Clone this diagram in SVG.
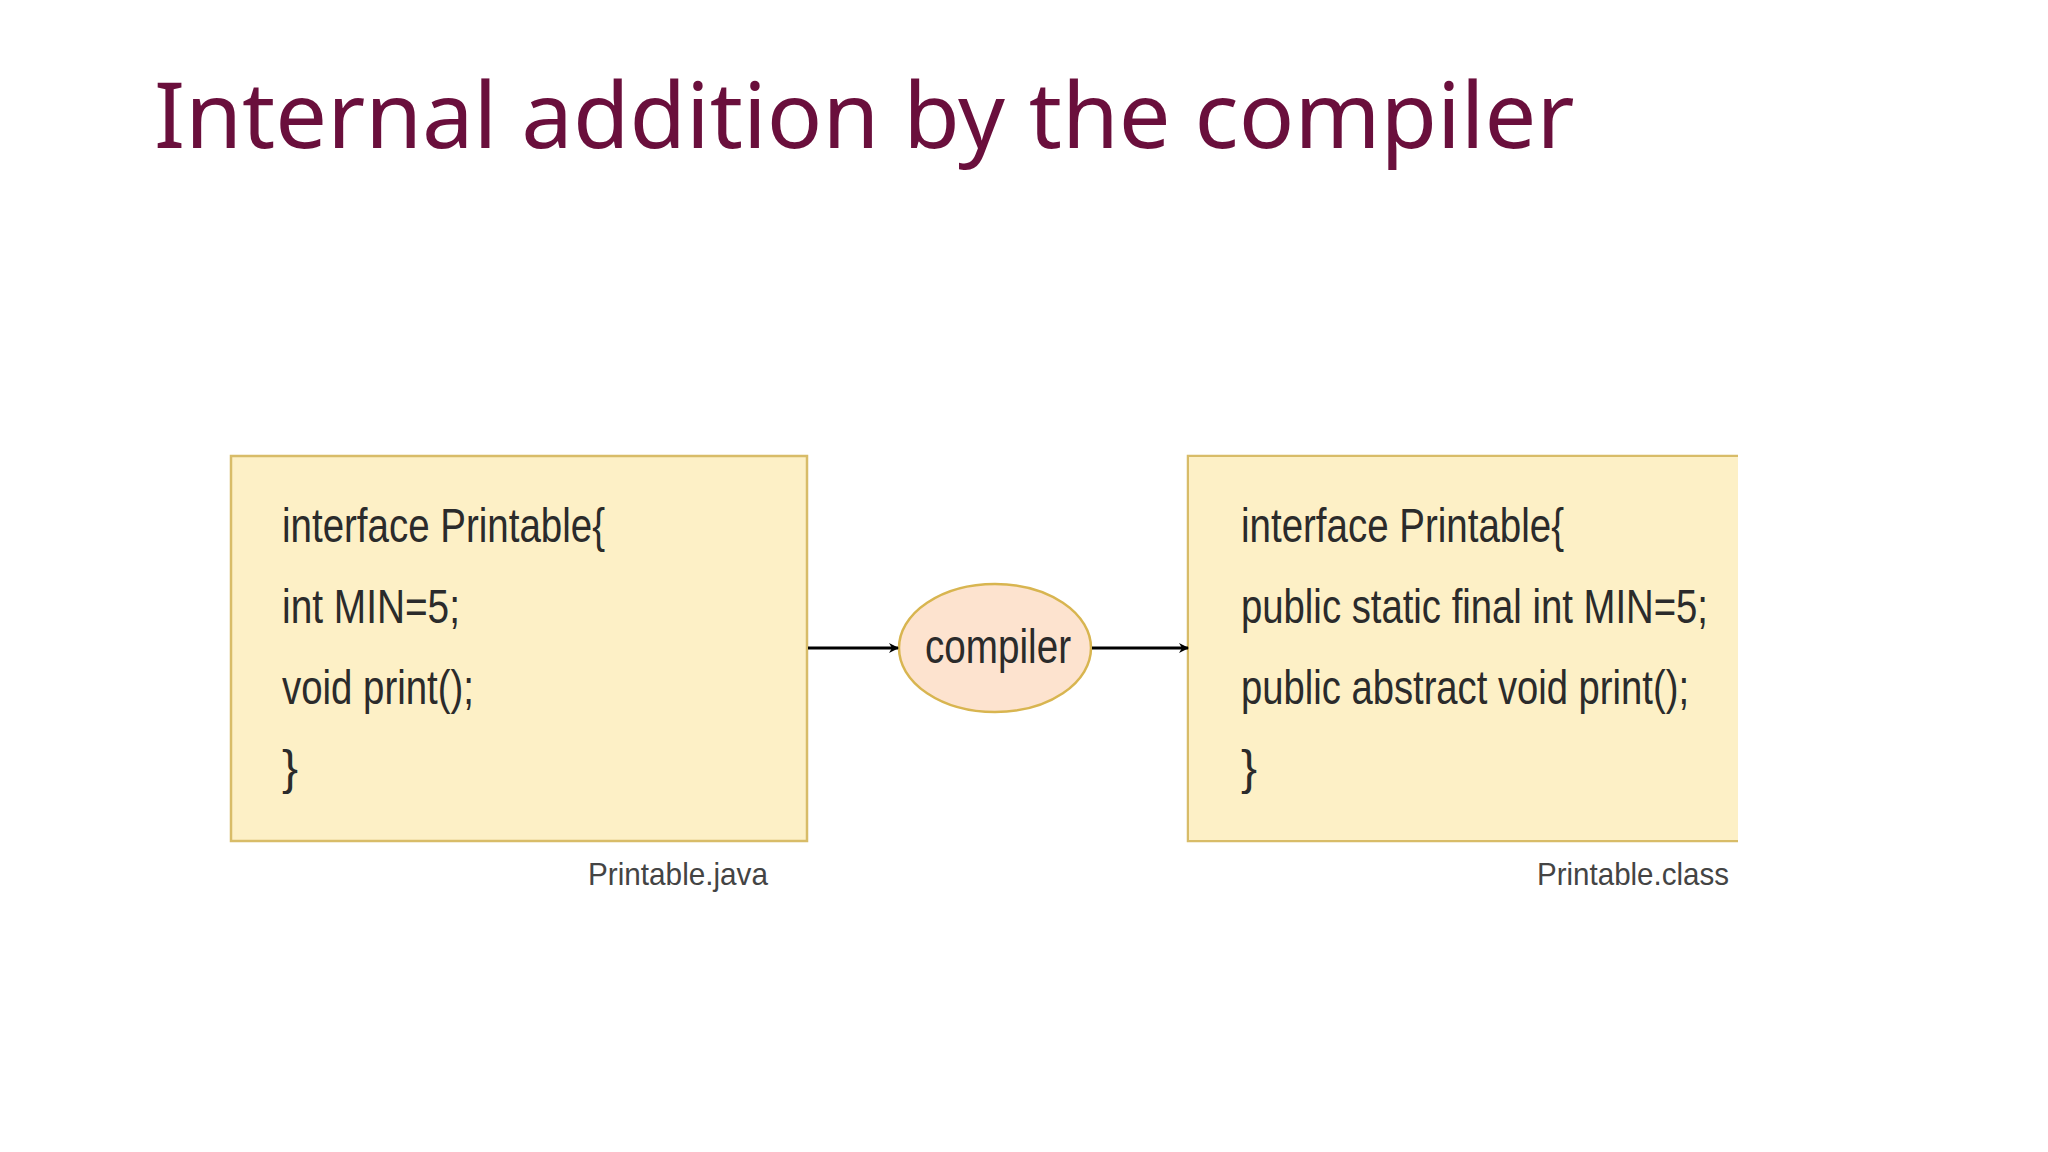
<svg xmlns="http://www.w3.org/2000/svg" width="2048" height="1152" viewBox="0 0 2048 1152">
<style>
.t{font-family:"Liberation Sans",Arial,sans-serif;fill:#2b2b2b;font-size:48px}
.c{font-family:"Liberation Sans",Arial,sans-serif;fill:#444;font-size:32px}
.box{fill:#fdf0c6;stroke:#d8bc68;stroke-width:2.5}
</style>
<defs><marker id="ah" markerWidth="10" markerHeight="10" refX="9" refY="5" orient="auto" markerUnits="userSpaceOnUse"><path d="M0,0 L10,5 L0,10 L3,5 Z" fill="#000"/></marker></defs>
<rect width="2048" height="1152" fill="#fff"/>
<text x="154" y="148" font-family="'Noto Sans',sans-serif" font-size="92" fill="#6a0f3c">Internal addition by the compiler</text>
<g id="java">
<rect class="box" x="231" y="456" width="576" height="385"/>
<text class="t" x="282" y="542" textLength="323" lengthAdjust="spacingAndGlyphs">interface Printable{</text>
<text class="t" x="282" y="623" textLength="178" lengthAdjust="spacingAndGlyphs">int MIN=5;</text>
<text class="t" x="282" y="704" textLength="192" lengthAdjust="spacingAndGlyphs">void print();</text>
<text class="t" x="282" y="784">}</text>
<text class="c" x="588" y="885" textLength="180" lengthAdjust="spacingAndGlyphs">Printable.java</text>
</g>
<g id="compiler">
<ellipse cx="995" cy="648" rx="96" ry="64" fill="#fde3cf" stroke="#d8b550" stroke-width="2.5"/>
<text class="t" x="925" y="663" textLength="146" lengthAdjust="spacingAndGlyphs" fill="#333">compiler</text>
</g>
<g id="class">
<path class="box" d="M1738,456 H1188 V841 H1738" />
<rect x="1189" y="457" width="549" height="383" fill="#fdf0c6"/>
<text class="t" x="1241" y="542" textLength="323" lengthAdjust="spacingAndGlyphs">interface Printable{</text>
<text class="t" x="1241" y="623" textLength="467" lengthAdjust="spacingAndGlyphs">public static final int MIN=5;</text>
<text class="t" x="1241" y="704" textLength="448" lengthAdjust="spacingAndGlyphs">public abstract void print();</text>
<text class="t" x="1241" y="784">}</text>
<text class="c" x="1537" y="885" textLength="192" lengthAdjust="spacingAndGlyphs">Printable.class</text>
</g>
<g id="connectors" stroke="#000" stroke-width="3">
<line x1="808" y1="648" x2="898" y2="648" marker-end="url(#ah)"/>
<line x1="1092" y1="648" x2="1188" y2="648" marker-end="url(#ah)"/>
</g>
</svg>
